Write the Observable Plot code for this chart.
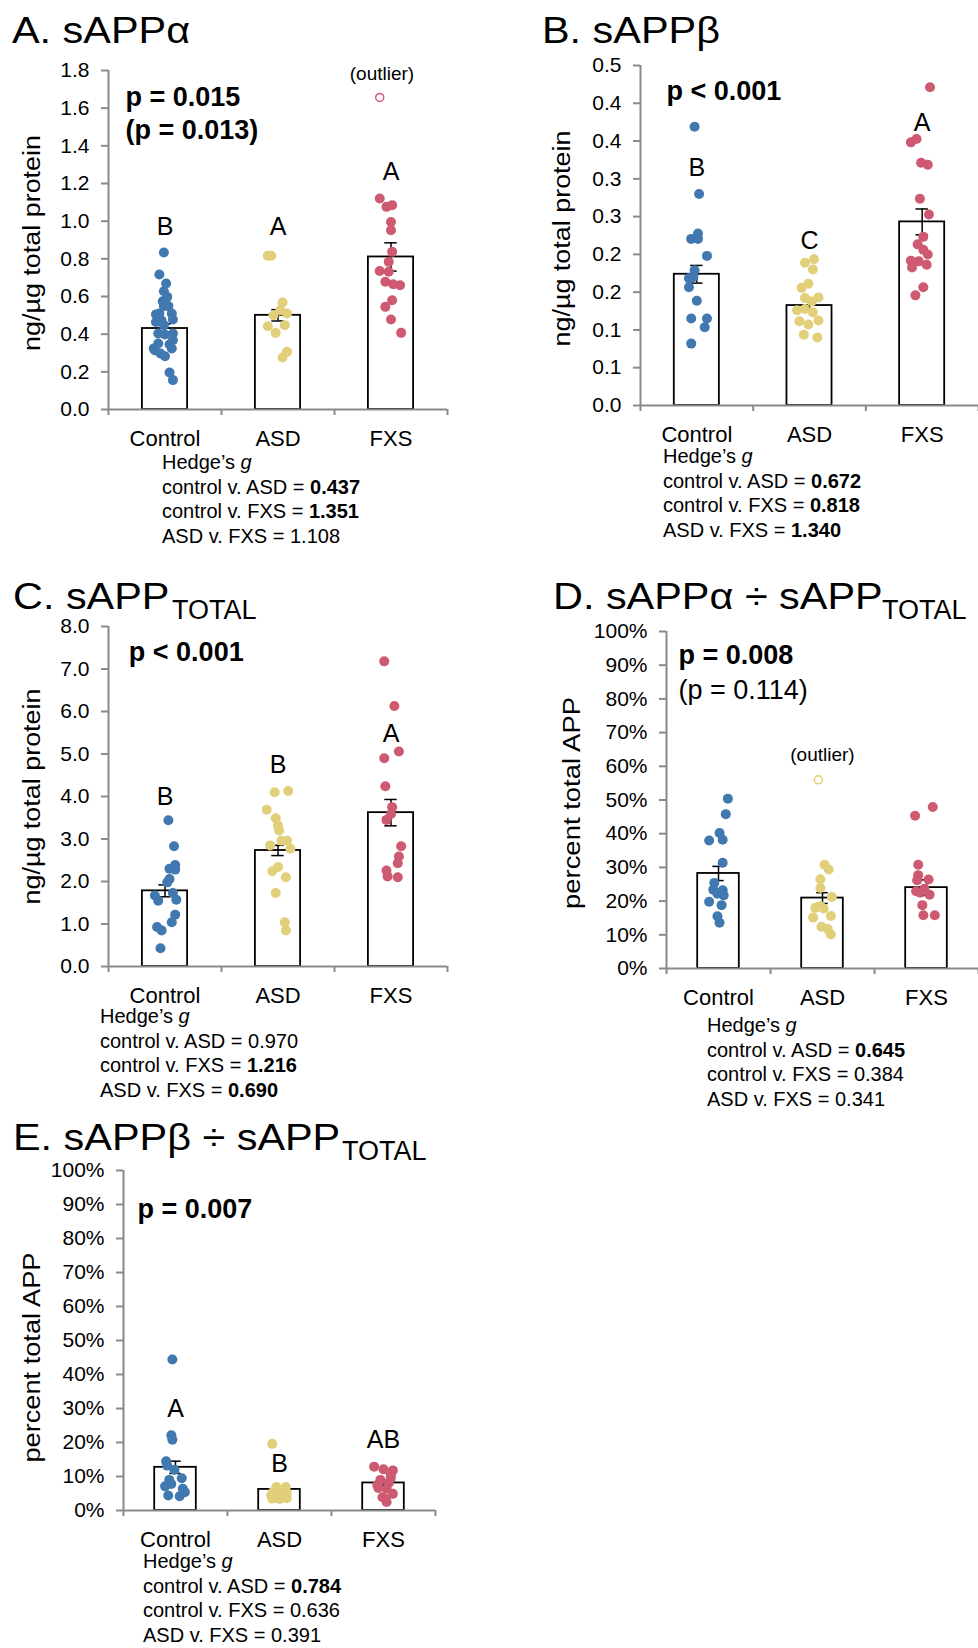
<!DOCTYPE html>
<html><head><meta charset="utf-8">
<script src="https://cdn.jsdelivr.net/npm/d3@7"></script>
<script src="https://cdn.jsdelivr.net/npm/@observablehq/plot@0.6"></script>
<style>
body{margin:0;background:#fff;font-family:"Liberation Sans",Arial,sans-serif;}
#page{position:relative;width:978px;height:1648px;overflow:hidden;background:#fff;}
.abs{position:absolute;}
.title{font-size:36px;line-height:30px;white-space:nowrap;color:#000;transform:scaleX(1.15);transform-origin:0 50%;}
.sub{font-size:27px;line-height:24px;white-space:nowrap;color:#000;}
.hedge{font-size:20px;line-height:24.5px;white-space:nowrap;color:#000;}
svg{overflow:visible;}
</style></head><body><div id="page"></div>
<script>
// ---------- DATA ----------
const groups = ["Control", "ASD", "FXS"];
const groupColors = ["#4178B0", "#E2CF7A", "#CD5A71"];

// Panel A: sAPPα (ng/µg total protein); points are [jitter within group, value]
const aMeans = [0.43, 0.50, 0.81];
const aSE = [0.025, 0.03, 0.075];
const aControl = [[-0.01,0.834],[-0.05,0.717],[0.01,0.669],[-0.01,0.628],[0.02,0.598],[-0.02,0.575],[-0.05,0.51],[-0.08,0.505],[0.06,0.51],[-0.01,0.549],[0.03,0.549],[-0.08,0.465],[0.07,0.478],[-0.03,0.473],[-0.01,0.448],[-0.06,0.404],[0.07,0.404],[0.0,0.398],[0.07,0.368],[-0.06,0.35],[0.04,0.345],[0.06,0.324],[-0.1,0.324],[-0.09,0.315],[-0.04,0.297],[0.0,0.283],[0.04,0.196],[0.07,0.156]];
const aASD = [[-0.09,0.816],[-0.06,0.816],[0.04,0.568],[-0.04,0.50],[0.08,0.51],[0.02,0.527],[-0.09,0.442],[0.06,0.448],[-0.02,0.407],[0.08,0.306],[0.04,0.276]];
const aFXS = [[-0.1,1.12],[-0.04,1.076],[0.01,1.085],[0.0,0.996],[0.0,0.952],[0.01,0.837],[-0.02,0.784],[-0.1,0.735],[-0.02,0.731],[-0.05,0.678],[0.02,0.665],[0.08,0.66],[0.01,0.58],[-0.05,0.545],[0.0,0.478],[0.09,0.407]];
const aOutliers = [{g: 2, j: -0.1, v: 1.657}];
const aLetters = ["B", "A", "A"];
const aTicks = [0, 0.2, 0.4, 0.6, 0.8, 1.0, 1.2, 1.4, 1.6, 1.8];
const aTickLabels = ["0.0","0.2","0.4","0.6","0.8","1.0","1.2","1.4","1.6","1.8"];

// Panel B: sAPPβ
const bMeans = [0.193, 0.147, 0.27];
const bSE = [0.013, 0.006, 0.019];
const bControl = [[-0.02,0.41],[0.02,0.311],[0.01,0.253],[-0.05,0.245],[0.01,0.245],[0.09,0.22],[-0.02,0.199],[-0.03,0.189],[-0.07,0.187],[-0.07,0.174],[0.0,0.154],[-0.05,0.128],[0.09,0.128],[0.07,0.115],[-0.05,0.091]];
const bASD = [[-0.04,0.21],[0.04,0.215],[0.03,0.2],[-0.07,0.173],[-0.01,0.179],[-0.04,0.158],[0.08,0.159],[0.02,0.153],[-0.11,0.14],[-0.04,0.142],[0.03,0.137],[-0.09,0.124],[-0.01,0.119],[0.08,0.125],[-0.05,0.104],[0.07,0.1]];
const bFXS = [[0.07,0.468],[-0.1,0.387],[-0.05,0.392],[-0.01,0.357],[0.05,0.354],[-0.02,0.304],[0.06,0.281],[0.01,0.248],[-0.04,0.237],[0.01,0.229],[0.05,0.222],[-0.1,0.213],[-0.03,0.212],[0.04,0.207],[-0.09,0.203],[0.01,0.174],[-0.06,0.162]];
const bLetters = ["B", "C", "A"];
const bTicks = [0, 0.0556, 0.1111, 0.1667, 0.2222, 0.2778, 0.3333, 0.3889, 0.4444, 0.5];
const bTickLabels = ["0.0","0.1","0.1","0.2","0.2","0.3","0.3","0.4","0.4","0.5"];

// Panel C: sAPP total
const cMeans = [1.78, 2.73, 3.62];
const cSE = [0.14, 0.12, 0.31];
const cControl = [[0.03,3.44],[0.08,2.83],[0.09,2.39],[0.04,2.30],[0.09,2.28],[0.04,2.06],[0.02,1.98],[0.07,1.73],[-0.09,1.67],[-0.06,1.55],[0.1,1.57],[0.09,1.22],[0.06,1.04],[-0.07,0.93],[-0.03,0.85],[-0.04,0.43]];
const cASD = [[-0.03,4.10],[0.09,4.13],[-0.1,3.69],[-0.02,3.49],[0.0,3.32],[0.01,3.2],[0.03,2.96],[0.08,2.96],[-0.07,2.85],[0.11,2.77],[0.0,2.34],[-0.05,2.24],[0.07,2.10],[-0.02,1.73],[0.06,1.04],[0.07,0.85]];
const cFXS = [[-0.06,7.18],[0.03,6.13],[0.07,5.06],[-0.06,4.90],[-0.05,4.24],[0.01,3.75],[0.0,3.59],[-0.04,3.45],[0.09,2.83],[0.07,2.59],[0.06,2.43],[-0.04,2.26],[-0.03,2.12],[0.06,2.10]];
const cLetters = ["B", "B", "A"];
const cTicks = [0, 1, 2, 3, 4, 5, 6, 7, 8];
const cTickLabels = ["0.0","1.0","2.0","3.0","4.0","5.0","6.0","7.0","8.0"];

// Panel D: sAPPα ÷ sAPP total (%)
const dMeans = [28.2, 20.9, 24.0];
const dSE = [2.1, 1.6, 2.3];
const dControl = [[0.09,50.4],[0.07,45.8],[0.01,40.2],[-0.09,38.0],[0.04,38.2],[0.04,31.4],[-0.04,25.4],[-0.05,23.4],[0.04,23.2],[-0.01,22.2],[0.05,21.7],[-0.09,19.8],[0.03,18.8],[-0.01,15.5],[0.01,13.6]];
const dASD = [[0.02,30.8],[0.06,29.4],[-0.02,26.5],[-0.02,23.9],[0.09,21.2],[-0.02,18.5],[-0.07,18.0],[0.01,17.8],[0.08,15.6],[-0.09,15.1],[-0.01,12.4],[0.05,11.7],[0.08,10.1]];
const dFXS = [[0.06,47.9],[-0.11,45.3],[-0.08,30.8],[-0.08,27.7],[-0.09,26.2],[0.02,26.4],[-0.02,23.7],[-0.1,22.9],[-0.06,22.5],[0.03,21.9],[-0.04,18.8],[-0.03,15.8],[0.08,15.8]];
const dOutliers = [{g: 1, j: -0.04, v: 56.0}];
const pctTicks = [0, 10, 20, 30, 40, 50, 60, 70, 80, 90, 100];
const pctTickLabels = ["0%","10%","20%","30%","40%","50%","60%","70%","80%","90%","100%"];

// Panel E: sAPPβ ÷ sAPP total (%)
const eMeans = [12.7, 6.2, 8.1];
const eSE = [1.8, 0.9, 0.8];
const eControl = [[-0.03,44.4],[-0.04,22.1],[-0.03,20.8],[-0.09,14.5],[-0.08,13.2],[-0.01,12.0],[-0.06,9.0],[0.06,9.5],[-0.04,7.8],[-0.1,7.1],[0.07,6.4],[0.09,5.4],[-0.07,4.4],[0.04,4.2]];
const eASD = [[-0.07,19.6],[-0.03,6.9],[0.06,6.9],[-0.06,5.5],[0.02,6.0],[0.0,5.0],[0.07,5.2],[-0.08,4.5],[0.03,4.3],[-0.04,3.8],[0.07,3.6],[0.0,3.4],[-0.07,3.5],[0.05,4.0]];
const eFXS = [[-0.09,12.9],[0.0,12.1],[0.09,11.8],[0.07,10.3],[-0.03,9.0],[0.05,8.0],[-0.05,6.6],[0.03,6.4],[0.09,4.9],[-0.01,3.9],[0.03,2.5],[0.02,3.4],[-0.06,7.5],[0.07,9.5]];
const eLetters = ["A", "B", "AB"];

// ---------- DRAWING ----------
const page = document.getElementById("page");
const gray = "#8a8a8a";
const FONT = "Liberation Sans, Arial, sans-serif";

function addHTML(cls, left, top, html) {
  const d = document.createElement("div");
  d.className = "abs " + cls;
  d.style.left = left + "px";
  d.style.top = top + "px";
  d.innerHTML = html;
  page.appendChild(d);
}

function makePanel(c) {
  const bars = groups.map((g, i) => ({i, m: c.means[i], se: c.se[i]}));
  const pts = c.points.flatMap((arr, g) => arr.map(([j, v]) => ({g, x: g + j, v})));
  const outs = (c.outliers || []).map(o => ({g: o.g, x: o.g + o.j, v: o.v}));
  const tickLabel = d => c.tickLabels[c.ticks.indexOf(d)];
  const marks = [
    Plot.rectY(bars, {x1: d => d.i - 0.2, x2: d => d.i + 0.2, y1: 0, y2: "m", fill: "white", stroke: "black", strokeWidth: 1.8}),
    Plot.ruleX(bars, {x: "i", y1: d => d.m - d.se, y2: d => d.m + d.se, stroke: "black", strokeWidth: 1.5}),
    Plot.ruleY(bars, {y: d => d.m + d.se, x1: d => d.i - 0.055, x2: d => d.i + 0.055, stroke: "black", strokeWidth: 1.5}),
    Plot.ruleY(bars, {y: d => d.m - d.se, x1: d => d.i - 0.055, x2: d => d.i + 0.055, stroke: "black", strokeWidth: 1.5}),
    Plot.dot(pts, {x: "x", y: "v", r: 5, fill: "g", stroke: null}),
    Plot.dot(outs, {x: "x", y: "v", r: 4, stroke: "g", fill: "white", strokeWidth: 1.5}),
    Plot.ruleY([0], {stroke: gray, strokeWidth: 2}),
    Plot.ruleX([-0.5], {stroke: gray, strokeWidth: 2}),
    Plot.axisY({ticks: c.ticks, tickFormat: tickLabel, tickSize: 7, tickPadding: 12, fontSize: 21, stroke: gray, strokeWidth: 2, fill: "black", label: null}),
    Plot.axisX({ticks: [-0.5, 0.5, 1.5, 2.5], tickSize: 6, tickFormat: () => "", stroke: gray, strokeWidth: 2, label: null}),
    Plot.axisX({ticks: [0, 1, 2], tickSize: 0, tickPadding: 21, tickFormat: i => groups[i], fontSize: 22, fill: "black", label: null}),
    Plot.text([c.ylabel], {frameAnchor: "left", textAnchor: "middle", lineAnchor: "middle", rotate: -90, dx: c.ylabelDx, dy: c.ylabelDy || 0, fontSize: 23, fill: "black"})
  ];
  if (c.letters) {
    marks.push(Plot.text(bars, {x: "i", y: d => c.letterY[d.i], text: d => c.letters[d.i], fontSize: 25, lineAnchor: "bottom", fill: "black"}));
  }
  for (const p of c.pTexts) {
    marks.push(Plot.text([p.t], {x: p.x, y: p.y, textAnchor: "start", lineAnchor: "bottom", fontSize: 27, fontWeight: p.bold ? "bold" : "normal", fill: "black"}));
  }
  if (c.outlierLabel) {
    marks.push(Plot.text(["(outlier)"], {x: c.outlierLabel.x, y: c.outlierLabel.y, lineAnchor: "bottom", fontSize: 19, fill: "black"}));
  }
  const svg = Plot.plot({
    width: c.width, height: c.height,
    marginLeft: c.ml, marginRight: c.mr, marginTop: c.mt, marginBottom: c.mb,
    x: {type: "linear", domain: [-0.5, 2.5], axis: null, label: null},
    y: {type: "linear", domain: [0, c.ymax], axis: null, label: null},
    color: {type: "ordinal", domain: [0, 1, 2], range: groupColors},
    style: {background: "transparent", fontFamily: FONT, overflow: "visible", color: "black"},
    marks
  });
  // stretch the rotated axis title along its length as in the reference
  svg.querySelectorAll("text").forEach(t => {
    if (t.textContent === c.ylabel) {
      t.setAttribute("textLength", c.ylabelLength);
      t.setAttribute("lengthAdjust", "spacingAndGlyphs");
    }
  });
  svg.style.position = "absolute";
  svg.style.left = c.left + "px";
  svg.style.top = c.top + "px";
  page.appendChild(svg);
}

makePanel({
  left: 0, top: 50, width: 460, height: 409, ml: 108, mr: 13, mt: 20, mb: 50,
  ymax: 1.8, ticks: aTicks, tickLabels: aTickLabels,
  ylabel: "ng/µg total protein", ylabelDx: -76, ylabelDy: 3, ylabelLength: 216,
  means: aMeans, se: aSE, points: [aControl, aASD, aFXS], outliers: aOutliers,
  letters: aLetters, letterY: [0.926, 0.926, 1.218],
  pTexts: [{t: "p = 0.015", x: -0.35, y: 1.61, bold: true}, {t: "(p = 0.013)", x: -0.35, y: 1.434, bold: true}],
  outlierLabel: {x: 1.92, y: 1.752}
});
makePanel({
  left: 490, top: 45, width: 488, height: 410, ml: 150, mr: 0, mt: 20, mb: 50,
  ymax: 0.5, ticks: bTicks, tickLabels: bTickLabels,
  ylabel: "ng/µg total protein", ylabelDx: -78, ylabelDy: 3, ylabelLength: 216,
  means: bMeans, se: bSE, points: [bControl, bASD, bFXS],
  letters: bLetters, letterY: [0.338, 0.230, 0.404],
  pTexts: [{t: "p < 0.001", x: -0.27, y: 0.449, bold: true}]
});
makePanel({
  left: 0, top: 606, width: 460, height: 410, ml: 108, mr: 13, mt: 20, mb: 50,
  ymax: 8, ticks: cTicks, tickLabels: cTickLabels,
  ylabel: "ng/µg total protein", ylabelDx: -76, ylabelDy: 0, ylabelLength: 216,
  means: cMeans, se: cSE, points: [cControl, cASD, cFXS],
  letters: cLetters, letterY: [3.79, 4.55, 5.29],
  pTexts: [{t: "p < 0.001", x: -0.32, y: 7.18, bold: true}]
});
makePanel({
  left: 510, top: 611, width: 468, height: 407, ml: 156, mr: 0, mt: 20, mb: 50,
  ymax: 100, ticks: pctTicks, tickLabels: pctTickLabels,
  ylabel: "percent total APP", ylabelDx: -94, ylabelDy: 3, ylabelLength: 212,
  means: dMeans, se: dSE, points: [dControl, dASD, dFXS], outliers: dOutliers,
  pTexts: [{t: "p = 0.008", x: -0.385, y: 90.4, bold: true}, {t: "(p = 0.114)", x: -0.385, y: 80.0, bold: false}],
  outlierLabel: {x: 1.0, y: 61.5}
});
makePanel({
  left: 0, top: 1150, width: 450, height: 410, ml: 123, mr: 15, mt: 20, mb: 50,
  ymax: 100, ticks: pctTicks, tickLabels: pctTickLabels,
  ylabel: "percent total APP", ylabelDx: -91, ylabelDy: 17, ylabelLength: 210,
  means: eMeans, se: eSE, points: [eControl, eASD, eFXS],
  letters: eLetters, letterY: [27.5, 11.3, 18.3],
  pTexts: [{t: "p = 0.007", x: -0.365, y: 86.1, bold: true}]
});

// Titles (line-height 30px: baseline = top + 27.5)
addHTML("title", 12, 15.5, "A. sAPPα");
addHTML("title", 542, 15.5, "B. sAPPβ");
addHTML("title", 13, 581.5, "C. sAPP");
addHTML("sub", 172, 597.5, "TOTAL");
addHTML("title", 553, 581.5, "D. sAPPα ÷ sAPP");
addHTML("sub", 882, 597.5, "TOTAL");
addHTML("title", 13, 1122.5, "E. sAPPβ ÷ sAPP");
addHTML("sub", 342, 1138.5, "TOTAL");

// Hedge's g captions
addHTML("hedge", 162, 450, "Hedge’s <i>g</i><br>control v. ASD = <b>0.437</b><br>control v. FXS = <b>1.351</b><br>ASD v. FXS = 1.108");
addHTML("hedge", 663, 444, "Hedge’s <i>g</i><br>control v. ASD = <b>0.672</b><br>control v. FXS = <b>0.818</b><br>ASD v. FXS = <b>1.340</b>");
addHTML("hedge", 100, 1004, "Hedge’s <i>g</i><br>control v. ASD = 0.970<br>control v. FXS = <b>1.216</b><br>ASD v. FXS = <b>0.690</b>");
addHTML("hedge", 707, 1013, "Hedge’s <i>g</i><br>control v. ASD = <b>0.645</b><br>control v. FXS = 0.384<br>ASD v. FXS = 0.341");
addHTML("hedge", 143, 1549, "Hedge’s <i>g</i><br>control v. ASD = <b>0.784</b><br>control v. FXS = 0.636<br>ASD v. FXS = 0.391");
</script></body></html>
